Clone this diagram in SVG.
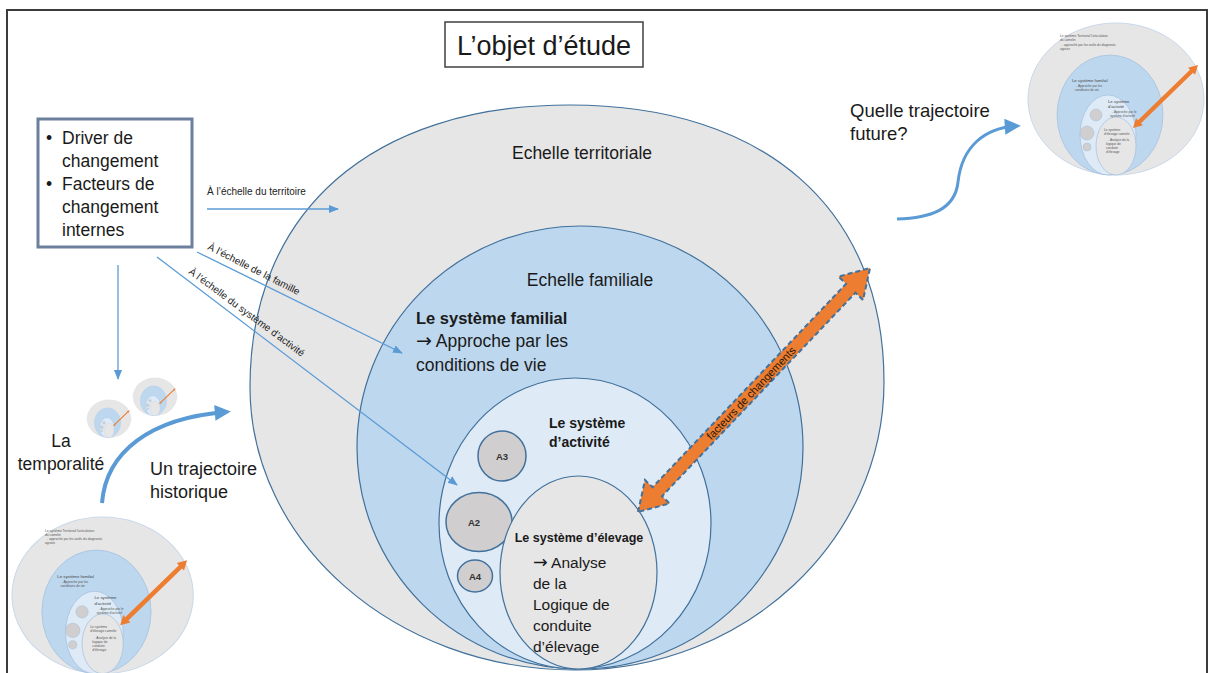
<svg xmlns="http://www.w3.org/2000/svg" xmlns:xlink="http://www.w3.org/1999/xlink" width="1209" height="673" viewBox="0 0 1209 673">
<style>
text{font-family:"Liberation Sans",Arial,sans-serif;fill:#1a1a1a}
.lbl{font-size:17.5px}
.b{font-weight:bold}
.arr{font-family:"DejaVu Sans",sans-serif}
.sm{font-size:10px;fill:#222}
.conn{fill:none;stroke:#5b9bd5;stroke-width:1.3}
.thick{fill:none;stroke:#5b9bd5;stroke-width:4}
.gray{fill:#e7e6e6;stroke:#41719c;stroke-width:1.2}
.blue{fill:#bdd7ee;stroke:#41719c;stroke-width:1.2}
.light{fill:#deebf7;stroke:#41719c;stroke-width:1.2}
.acirc{fill:#d0cece;stroke:#41719c;stroke-width:1.5}
.alab{font-size:9.5px;font-weight:bold;fill:#333}
.tiny{font-size:3.2px;fill:#555}
.tinyb{font-size:4.2px;fill:#444}
</style>
<defs>
<marker id="ah" viewBox="0 0 10 10" refX="9" refY="5" markerWidth="10" markerHeight="10" markerUnits="userSpaceOnUse" orient="auto"><path d="M0,1 L10,5 L0,9 z" fill="#5b9bd5"/></marker>
<marker id="ahBig" viewBox="0 0 10 10" refX="7" refY="5" markerWidth="18" markerHeight="16" markerUnits="userSpaceOnUse" orient="auto"><path d="M0,0 L10,5 L0,10 z" fill="#5b9bd5"/></marker>
<g id="mini">
<ellipse cx="88" cy="79" rx="88" ry="76" fill="#e7e6e6" stroke="#c9d8ea" stroke-width="1"/>
<ellipse cx="82" cy="95" rx="53" ry="60" fill="#bdd7ee" stroke="#a3bedc" stroke-width="0.7"/>
<ellipse cx="80" cy="115" rx="28" ry="40" fill="#deebf7" stroke="#a3bedc" stroke-width="0.7"/>
<circle cx="68" cy="95" r="6" fill="#d0cece" stroke="#a3bedc" stroke-width="0.5"/>
<circle cx="59" cy="113" r="7" fill="#d0cece" stroke="#a3bedc" stroke-width="0.5"/>
<circle cx="59" cy="127" r="4" fill="#d0cece" stroke="#a3bedc" stroke-width="0.5"/>
<ellipse cx="88" cy="126" rx="20" ry="29" fill="#e7e6e6" stroke="#a3bedc" stroke-width="0.7"/>
<polygon transform="translate(105,108) rotate(-44.1)" points="0,0 9,-5 9,-2.2 81.5,-2.2 81.5,-5 90.5,0 81.5,5 81.5,2.2 9,2.2 9,5" fill="#ed7d31"/>
</g>
<g id="minitext">
<text class="tiny" x="32" y="17">Le système Territorial l'articulation</text>
<text class="tiny" x="32" y="21">du camelin</text>
<text class="tiny" x="32" y="25.5">→ approché par les outils du diagnostic</text>
<text class="tiny" x="32" y="29.5">agraire</text>
<text class="tinyb" x="44" y="62">Le système familial</text>
<text class="tiny" x="46" y="67">→ Approche par les</text>
<text class="tiny" x="47" y="71">conditions de vie</text>
<text class="tinyb" x="80" y="83">Le système</text>
<text class="tinyb" x="80" y="88">d'activité</text>
<text class="tiny" x="82" y="93">→ Approche par le</text>
<text class="tiny" x="82" y="97">système d'activité</text>
<text class="tiny" x="76" y="111">Le système</text>
<text class="tiny" x="76" y="115">d'élevage camelin</text>
<text class="tiny" x="78" y="121">→ Analyse de la</text>
<text class="tiny" x="78" y="125">logique de</text>
<text class="tiny" x="78" y="129">conduite</text>
<text class="tiny" x="78" y="133">d'élevage</text>
</g>
</defs>
<rect x="0" y="0" width="1209" height="673" fill="#ffffff"/>
<path d="M7,673 V10 H1207 V673" fill="none" stroke="#3c3c3c" stroke-width="2"/>

<g id="thumb-topright">
<use xlink:href="#mini" href="#mini" transform="translate(1028,20)"/>
<use xlink:href="#minitext" href="#minitext" transform="translate(1028,20)"/>
</g>
<g id="thumb-bottomleft">
<use xlink:href="#mini" href="#mini" transform="translate(12,514) scale(1.03)"/>
<use xlink:href="#minitext" href="#minitext" transform="translate(12,514) scale(1.03)"/>
</g>
<g id="thumb-small-1"><use xlink:href="#mini" href="#mini" transform="translate(87,399) scale(0.25)"/></g>
<g id="thumb-small-2"><use xlink:href="#mini" href="#mini" transform="translate(133,377) scale(0.25)"/></g>

<g id="title">
<rect x="445" y="22" width="198" height="45" fill="#ffffff" stroke="#404040" stroke-width="1.5"/>
<text x="544" y="55" text-anchor="middle" style="font-size:27px">L’objet d’étude</text>
</g>

<g id="echelle-territoriale">
<path class="gray" d="M570,105 C765,105 884,209 884,382 C884,540 746,670 575,670 C395,670 250,542 250,387 C250,211 372,105 570,105 Z"/>
<text class="lbl" x="582" y="159" text-anchor="middle">Echelle territoriale</text>
</g>
<g id="echelle-familiale">
<ellipse class="blue" cx="580" cy="447.5" rx="223" ry="221.5"/>
<text class="lbl" x="590" y="286" text-anchor="middle">Echelle familiale</text>
<text class="b" x="416" y="324" style="font-size:16.5px">Le système familial</text>
<text class="lbl" x="416" y="347"><tspan class="arr" style="font-size:19px">→</tspan> Approche par les</text>
<text class="lbl" x="416" y="371">conditions de vie</text>
</g>
<g id="systeme-activite">
<ellipse class="light" cx="575" cy="523.5" rx="136" ry="145.5"/>
<text class="b" x="549" y="428" style="font-size:14px">Le système</text>
<text class="b" x="549" y="447" style="font-size:14px">d’activité</text>
</g>
<g id="A3"><ellipse class="acirc" cx="502" cy="456" rx="24" ry="25"/><text class="alab" x="502" y="459.5" text-anchor="middle">A3</text></g>
<g id="A2"><ellipse class="acirc" cx="479" cy="522" rx="33" ry="29.5"/><text class="alab" x="474" y="525.5" text-anchor="middle">A2</text></g>
<g id="A4"><ellipse class="acirc" cx="475" cy="576" rx="17.5" ry="16"/><text class="alab" x="475" y="579.5" text-anchor="middle">A4</text></g>
<g id="systeme-elevage">
<ellipse class="gray" cx="578.5" cy="572.5" rx="78.5" ry="96.5"/>
<text class="b" x="579" y="542" text-anchor="middle" style="font-size:12.5px">Le système d’élevage</text>
<text x="533" y="568" style="font-size:15.5px"><tspan class="arr" style="font-size:17.5px">→</tspan> Analyse</text>
<text x="533" y="589" style="font-size:15.5px">de la</text>
<text x="533" y="610" style="font-size:15.5px">Logique de</text>
<text x="533" y="631" style="font-size:15.5px">conduite</text>
<text x="533" y="652" style="font-size:15.5px">d’élevage</text>
</g>

<g id="facteurs-changements">
<polygon transform="translate(638,512) rotate(-46.44)" points="0,0 28,-17 28,-6.5 308.7,-6.5 308.7,-17 336.7,0 308.7,17 308.7,6.5 28,6.5 28,17" fill="#ed7d31" stroke="#41719c" stroke-width="2" stroke-dasharray="5,3"/>
<text transform="translate(751,393) rotate(-46.44)" text-anchor="middle" style="font-size:11px;fill:#2a1a0a" y="4">facteurs de changements</text>
</g>

<g id="drivers">
<rect x="38" y="119" width="154" height="128" fill="#ffffff" stroke="#6c7f9c" stroke-width="3"/>
<text class="lbl" style="font-size:17.5px" x="46" y="144">•</text>
<text class="lbl" style="font-size:17.5px" x="62" y="144">Driver de</text>
<text class="lbl" style="font-size:17.5px" x="62" y="167">changement</text>
<text class="lbl" style="font-size:17.5px" x="46" y="190">•</text>
<text class="lbl" style="font-size:17.5px" x="62" y="190">Facteurs de</text>
<text class="lbl" style="font-size:17.5px" x="62" y="213">changement</text>
<text class="lbl" style="font-size:17.5px" x="62" y="236">internes</text>
</g>

<g id="labels-side">
<text class="lbl" x="61" y="447" text-anchor="middle">La</text>
<text class="lbl" x="61" y="470" text-anchor="middle">temporalité</text>
<text class="lbl" x="150" y="475" style="font-size:18px">Un trajectoire</text>
<text class="lbl" x="150" y="498" style="font-size:18px">historique</text>
<text class="lbl" x="850" y="117" style="font-size:18.5px">Quelle trajectoire</text>
<text class="lbl" x="850" y="140" style="font-size:18.5px">future?</text>
</g>

<g id="connectors">
<line class="conn" x1="207" y1="209" x2="338" y2="209" marker-end="url(#ah)"/>
<text class="sm" x="207" y="195">À l’échelle du territoire</text>
<line class="conn" x1="197" y1="252" x2="402" y2="353" marker-end="url(#ah)"/>
<text class="sm" transform="translate(207,249) rotate(27)">À l’échelle de la famille</text>
<line class="conn" x1="157" y1="257" x2="457" y2="485" marker-end="url(#ah)"/>
<text class="sm" transform="translate(188,273) rotate(36.5)">À l’échelle du système d’activité</text>
<line class="conn" x1="118" y1="265" x2="118" y2="379" marker-end="url(#ah)"/>
<path class="thick" d="M102,503 C106,452 150,418 226,412" marker-end="url(#ahBig)"/>
<path class="thick" style="stroke-width:3" d="M897,219 C930,218 955,210 958,182 C962,146 985,128 1016,126" marker-end="url(#ahBig)"/>
</g>
</svg>
